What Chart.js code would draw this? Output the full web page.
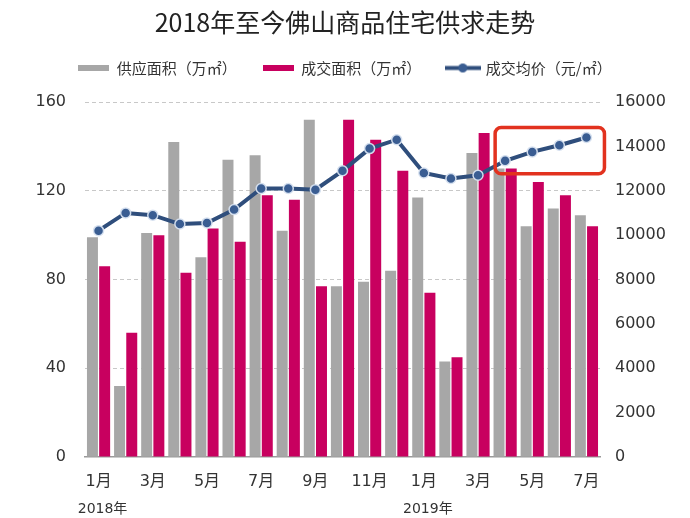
<!DOCTYPE html>
<html><head><meta charset="utf-8">
<script src="https://cdn.jsdelivr.net/npm/chart.js@4.4.0/dist/chart.umd.min.js"></script>
<style>html,body{margin:0;padding:0;background:#fff}#wrap{width:690px;height:518px}</style>
</head><body><div id="wrap"><canvas id="c" width="690" height="518"></canvas></div>
<script>
const titleText = '2018年至今佛山商品住宅供求走势';
const seriesNames = ['供应面积（万㎡）', '成交面积（万㎡）', '成交均价（元/㎡）'];
const categories = ['1月','2月','3月','4月','5月','6月','7月','8月','9月','10月','11月','12月','1月','2月','3月','4月','5月','6月','7月'];
const yearLabels = ['2018年', '2019年'];
const yearLabelIndex = [0, 12];
const supplyArea = [99, 32, 101, 142, 90, 134, 136, 102, 152, 77, 79, 84, 117, 43, 137, 130, 104, 112, 109];
const dealArea   = [86, 56, 100, 83, 103, 97, 118, 116, 77, 152, 143, 129, 74, 45, 146, 130, 124, 118, 104];
const avgPrice   = [10200, 11000, 10900, 10500, 10550, 11150, 12100, 12100, 12050, 12900, 13900, 14300, 12800, 12550, 12700, 13350, 13750, 14050, 14400];
const leftAxis = {min: 0, max: 160, step: 40};
const rightAxis = {min: 0, max: 16000, step: 2000};
const highlightRange = [15, 18];

const GRAY = '#a7a7a7', MAGENTA = '#c8005f', NAVY = '#2f4e7c';
const CJK = "'Noto Sans CJK SC', sans-serif";
const NUM = "'DejaVu Sans', 'Noto Sans CJK SC', sans-serif";

function rectSwatch(color){ const c=document.createElement('canvas'); c.width=31; c.height=6; const x=c.getContext('2d'); x.fillStyle=color; x.fillRect(0,0,31,6); return c; }
function lineSwatch(color){ const c=document.createElement('canvas'); c.width=36; c.height=11; const x=c.getContext('2d'); x.strokeStyle=color; x.lineWidth=4; x.beginPath(); x.moveTo(0,5.5); x.lineTo(36,5.5); x.stroke(); x.fillStyle='#3a5d92'; x.beginPath(); x.arc(18,5.5,4.5,0,Math.PI*2); x.fill(); return c; }
const swatches = [rectSwatch(GRAY), rectSwatch(MAGENTA), lineSwatch(NAVY)];

const extras = {
  id: 'extras',
  afterDatasetsDraw(chart){
    const meta = chart.getDatasetMeta(2);
    const pts = meta.data.slice(highlightRange[0], highlightRange[1]+1);
    const xs = pts.map(p=>p.x), ys = pts.map(p=>p.y);
    const l = Math.min(...xs)-10, r = Math.max(...xs)+18, t = Math.min(...ys)-10, b = Math.max(...ys)+13;
    const ctx = chart.ctx;
    ctx.save();
    ctx.strokeStyle = '#e2321f'; ctx.lineWidth = 3.5;
    ctx.beginPath(); ctx.roundRect(l, t, r-l, b-t, 6); ctx.stroke();
    ctx.restore();
  },
  afterDraw(chart){
    const xs = chart.scales.x, ctx = chart.ctx;
    ctx.save();
    ctx.font = "14px " + NUM; ctx.fillStyle = '#333'; ctx.textAlign = 'center'; ctx.textBaseline = 'middle';
    yearLabels.forEach((t,i)=>{ ctx.fillText(t, xs.getPixelForValue(yearLabelIndex[i]) + 4, xs.bottom - 9); });
    ctx.restore();
  }
};

new Chart(document.getElementById('c'), {
  type: 'bar',
  data: {
    labels: categories,
    datasets: [
      {label: seriesNames[0], data: supplyArea, backgroundColor: GRAY, yAxisID: 'y', order: 1, categoryPercentage: 0.9, barPercentage: 0.9},
      {label: seriesNames[1], data: dealArea, backgroundColor: MAGENTA, yAxisID: 'y', order: 1, categoryPercentage: 0.9, barPercentage: 0.9},
      {label: seriesNames[2], data: avgPrice, type: 'line', yAxisID: 'y1', order: 0, borderColor: NAVY, borderWidth: 4, tension: 0,
       pointRadius: 5, pointBackgroundColor: '#3a5d92', pointBorderColor: 'rgba(215,225,240,0.95)', pointBorderWidth: 1.5}
    ]
  },
  options: {
    responsive: false, animation: false, devicePixelRatio: 1,
    layout: {padding: 0},
    plugins: {
      tooltip: {enabled: false},
      title: {display: true, text: titleText, color: '#222', font: {family: CJK, size: 25, weight: 'normal', lineHeight: 1}, padding: {top: 9.5, bottom: 0}},
      subtitle: {display: true, text: '', weight: 500, font: {size: 1, lineHeight: 1}, padding: {top: 15.5, bottom: 0}},
      legend: {
        position: 'top',
        labels: {
          color: '#333', font: {family: CJK, size: 15}, padding: 26, usePointStyle: true, pointStyleWidth: 31, boxHeight: 15,
          generateLabels(chart){
            const items = Chart.defaults.plugins.legend.labels.generateLabels(chart);
            items.sort((a,b)=>a.datasetIndex-b.datasetIndex);
            items.forEach(it=>{ it.pointStyle = swatches[it.datasetIndex]; });
            return items;
          }
        }
      }
    },
    scales: {
      x: {
        grid: {display: false, drawTicks: false},
        border: {display: true, color: '#9a9a9a', width: 1.5},
        ticks: {autoSkip: false, maxRotation: 0, color: '#333', font: {family: NUM, size: 16}, padding: 15,
          callback(v, i){ return i % 2 === 0 ? categories[i] : ''; }},
        afterFit(s){ s.height = 61; }
      },
      y: {
        position: 'left', min: leftAxis.min, max: leftAxis.max,
        ticks: {stepSize: leftAxis.step, color: '#333', font: {family: NUM, size: 16}, padding: 19, callback: (v)=> String(v)},
        grid: {drawTicks: false, color: (c)=> c.tick && c.tick.value === 0 ? 'rgba(0,0,0,0)' : '#c8c8c8'},
        border: {display: false, dash: [4, 3]},
        afterFit(s){ s.width = 85; }
      },
      y1: {
        position: 'right', min: rightAxis.min, max: rightAxis.max,
        ticks: {stepSize: rightAxis.step, color: '#333', font: {family: NUM, size: 16}, padding: 15, callback: (v)=> String(v)},
        grid: {display: false, drawTicks: false},
        border: {display: false},
        afterFit(s){ s.width = 90; }
      }
    }
  },
  plugins: [extras]
});
</script></body></html>
